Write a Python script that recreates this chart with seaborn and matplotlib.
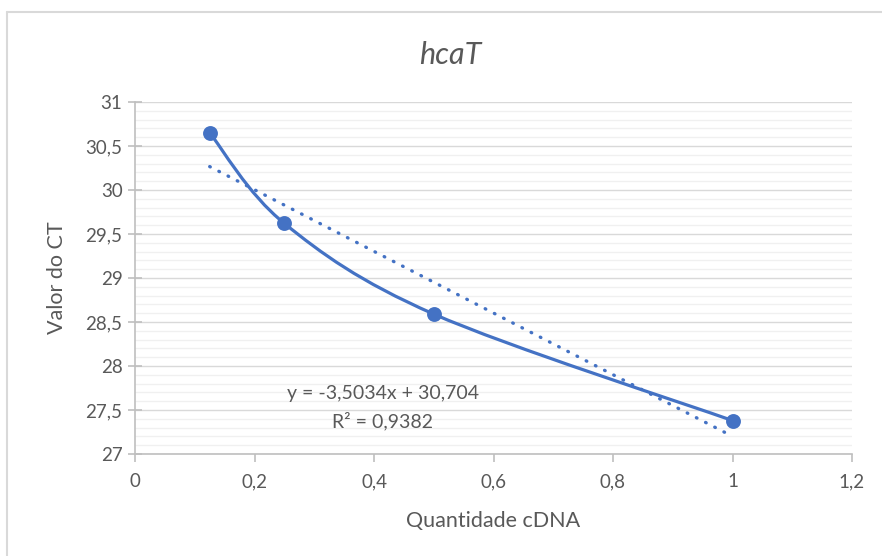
import numpy as np
import pandas as pd
import matplotlib
matplotlib.use("Agg")
import matplotlib.pyplot as plt
from matplotlib.path import Path
from matplotlib.patches import PathPatch
from matplotlib.lines import Line2D
from matplotlib.ticker import MultipleLocator, FuncFormatter
import seaborn as sns

# ---- data ----
quantidade = [0.125, 0.25, 0.5, 1.0]
valor_ct = [30.65, 29.62, 28.59, 27.38]
slope = -3.5034
intercept = 30.704
r2 = 0.9382
title = "hcaT"
xlabel = "Quantidade cDNA"
ylabel = "Valor do CT"
x_ticks = [0, 0.2, 0.4, 0.6, 0.8, 1.0, 1.2]
y_ticks = [27, 27.5, 28, 28.5, 29, 29.5, 30, 30.5, 31]

df = pd.DataFrame({"x": quantidade, "y": valor_ct})

sns.set_theme(style="white")
plt.rcParams["font.family"] = ["Lato", "DejaVu Sans"]

blue = "#4472C4"
text_c = "#595959"

fig = plt.figure(figsize=(8.82, 5.56), dpi=100)
ax = fig.add_axes([135 / 882, 1 - 454 / 556, (852 - 135) / 882, (454 - 102) / 556])

# minor + major gridlines
ax.set_xlim(0, 1.2)
ax.set_ylim(27, 31)
ax.yaxis.set_major_locator(MultipleLocator(0.5))
ax.yaxis.set_minor_locator(MultipleLocator(0.1))
ax.xaxis.set_major_locator(MultipleLocator(0.2))
ax.grid(axis="y", which="minor", color="#F0F0F0", lw=1.0)
ax.grid(axis="y", which="major", color="#D9D9D9", lw=1.0)
ax.grid(axis="x", visible=False)
ax.set_axisbelow(True)

# smoothed line (Excel-like Catmull-Rom Bezier through data points)
xs = np.array(quantidade)
ys = np.array(valor_ct)
n = len(xs)
verts = [(xs[0], ys[0])]
codes = [Path.MOVETO]
for i in range(n - 1):
    p0 = np.array([xs[max(i - 1, 0)], ys[max(i - 1, 0)]])
    p1 = np.array([xs[i], ys[i]])
    p2 = np.array([xs[i + 1], ys[i + 1]])
    p3 = np.array([xs[min(i + 2, n - 1)], ys[min(i + 2, n - 1)]])
    c1 = p1 + (p2 - p0) / 6.0
    c2 = p2 - (p3 - p1) / 6.0
    verts += [tuple(c1), tuple(c2), tuple(p2)]
    codes += [Path.CURVE4] * 3
ax.add_patch(PathPatch(Path(verts, codes), fill=False, edgecolor=blue, lw=2.3,
                       capstyle="round", zorder=3))

# linear trendline
tx = np.array([min(quantidade), max(quantidade)])
trend = pd.DataFrame({"x": tx, "y": slope * tx + intercept})
sns.lineplot(data=trend, x="x", y="y", ax=ax, color=blue, lw=2.4,
             linestyle=(0, (0.2, 2.9)), dash_capstyle="round", zorder=2)

sns.scatterplot(data=df, x="x", y="y", ax=ax, color=blue, s=115,
                edgecolor=blue, linewidth=0, zorder=4)

# ticks / formatting
fmt = FuncFormatter(lambda v, p: f"{v:g}".replace(".", ","))
ax.xaxis.set_major_formatter(fmt)
ax.yaxis.set_major_formatter(fmt)
ax.set_xticks(x_ticks)
ax.set_yticks(y_ticks)
ax.tick_params(axis="both", labelsize=13.5, colors=text_c)
ax.tick_params(axis="x", which="major", direction="out", length=6, width=1.2,
               color="#BFBFBF", pad=8, labelcolor=text_c, bottom=True)
ax.tick_params(axis="y", which="major", direction="inout", length=10, width=1.2,
               color="#BFBFBF", pad=4, labelcolor=text_c, left=True)
ax.tick_params(which="minor", length=0)

for s in ["top", "right"]:
    ax.spines[s].set_visible(False)
for s in ["left", "bottom"]:
    ax.spines[s].set_visible(True)
    ax.spines[s].set_color("#BFBFBF")
    ax.spines[s].set_linewidth(1.2)

ax.set_xlabel(xlabel, fontsize=15.5, color=text_c, labelpad=15)
ax.set_ylabel(ylabel, fontsize=15.5, color=text_c, labelpad=13)
fig.text(450 / 882, 1 - 55 / 556, title, fontsize=22, style="italic", color=text_c,
         ha="center", va="center")

eq_x = (383 - 135) / (852 - 135)
ax.text(eq_x, 1 - (393 - 102) / 352, f"y = {slope:.4f}x + {intercept:.3f}".replace(".", ","),
        transform=ax.transAxes, ha="center", va="center", fontsize=14, color=text_c)
ax.text(eq_x, 1 - (421 - 102) / 352, f"R² = {r2:.4f}".replace(".", ","),
        transform=ax.transAxes, ha="center", va="center", fontsize=14, color=text_c)

# chart border (partially visible)
fig.add_artist(Line2D([7 / 882, 7 / 882], [0, 1 - 12 / 556], transform=fig.transFigure,
                      color="#D9D9D9", lw=1.5))
fig.add_artist(Line2D([7 / 882, 1], [1 - 12 / 556, 1 - 12 / 556], transform=fig.transFigure,
                      color="#D9D9D9", lw=1.5))

fig.savefig("out.png", dpi=100)
